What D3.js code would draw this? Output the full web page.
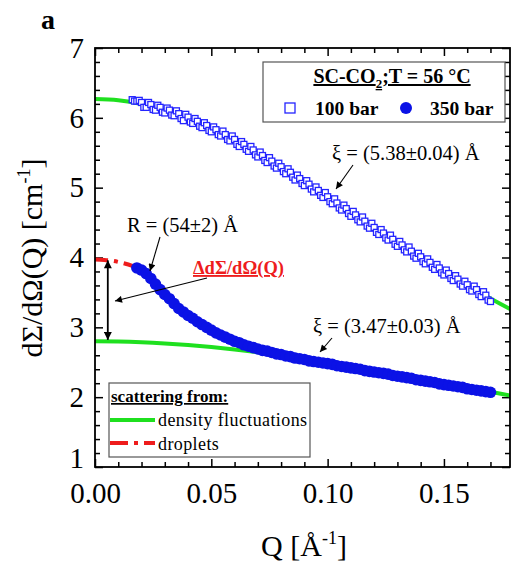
<!DOCTYPE html>
<html><head><meta charset="utf-8">
<script src="https://cdn.jsdelivr.net/npm/d3@7"></script>
<style>
body{margin:0;background:#fff}
svg{display:block}
text{font-family:"Liberation Serif","Times New Roman",serif;fill:#000}
</style>
</head><body>
<svg id="c" width="515" height="563"></svg>
<script>
// ---------- data ----------
const xTickLabels = [0.00, 0.05, 0.10, 0.15];
const yTickLabels = [1, 2, 3, 4, 5, 6, 7];

// fitted curves (density fluctuations)
const qFit   = [0,0.01,0.02,0.03,0.04,0.05,0.06,0.07,0.08,0.09,0.10,0.11,0.12,0.13,0.14,0.15,0.16,0.17,0.18];
const fit100 = [6.270,6.252,6.198,6.111,5.993,5.847,5.678,5.491,5.290,5.079,4.863,4.644,4.426,4.211,4.001,3.797,3.602,3.414,3.236];
const fit350 = [2.800,2.797,2.787,2.770,2.747,2.718,2.684,2.644,2.600,2.551,2.499,2.444,2.386,2.327,2.265,2.203,2.140,2.077,2.014];

// droplet contribution curve
const qDrop = [0,0.004,0.008,0.012,0.016,0.019];
const iDrop = [3.97,3.965,3.95,3.92,3.88,3.84];

// 100 bar data (open squares), even-Q points
const q100 = [0.016,0.018,0.020,0.022,0.024,0.026,0.028,0.030,0.032,0.034,0.036,0.038,0.040,0.042,0.044,0.046,0.048,0.050,0.052,0.054,0.056,0.058,0.060,0.062,0.064,0.066,0.068,0.070,0.072,0.074,0.076,0.078,0.080,0.082,0.084,0.086,0.088,0.090,0.092,0.094,0.096,0.098,0.100,0.102,0.104,0.106,0.108,0.110,0.112,0.114,0.116,0.118,0.120,0.122,0.124,0.126,0.128,0.130,0.132,0.134,0.136,0.138,0.140,0.142,0.144,0.146,0.148,0.150,0.152,0.154,0.156,0.158,0.160,0.162,0.164,0.166,0.168,0.170];
const i100 = [6.26,6.24,6.22,6.15,6.19,6.11,6.15,6.07,6.11,6.03,6.06,5.96,6.01,5.92,5.95,5.86,5.89,5.80,5.83,5.74,5.76,5.67,5.69,5.59,5.62,5.52,5.54,5.44,5.46,5.36,5.38,5.28,5.30,5.20,5.22,5.11,5.13,5.03,5.05,4.94,4.96,4.86,4.87,4.77,4.78,4.68,4.70,4.59,4.61,4.51,4.52,4.42,4.43,4.33,4.35,4.25,4.26,4.16,4.18,4.08,4.09,3.99,4.01,3.91,3.93,3.83,3.85,3.75,3.77,3.67,3.69,3.59,3.61,3.52,3.54,3.44,3.46,3.37];
// 100 bar data (open squares), odd-Q points
const q100b = [0.017,0.019,0.021,0.023,0.025,0.027,0.029,0.031,0.033,0.035,0.037,0.039,0.041,0.043,0.045,0.047,0.049,0.051,0.053,0.055,0.057,0.059,0.061,0.063,0.065,0.067,0.069,0.071,0.073,0.075,0.077,0.079,0.081,0.083,0.085,0.087,0.089,0.091,0.093,0.095,0.097,0.099,0.101,0.103,0.105,0.107,0.109,0.111,0.113,0.115,0.117,0.119,0.121,0.123,0.125,0.127,0.129,0.131,0.133,0.135,0.137,0.139,0.141,0.143,0.145,0.147,0.149,0.151,0.153,0.155,0.157,0.159,0.161,0.163,0.165,0.167,0.169];
const i100b = [6.24,6.25,6.15,6.22,6.12,6.18,6.08,6.14,6.04,6.10,5.99,6.05,5.94,5.99,5.88,5.93,5.82,5.87,5.76,5.81,5.69,5.74,5.62,5.66,5.55,5.59,5.47,5.51,5.39,5.43,5.31,5.35,5.23,5.27,5.15,5.18,5.06,5.10,4.98,5.01,4.89,4.93,4.80,4.84,4.71,4.75,4.63,4.66,4.54,4.58,4.45,4.49,4.36,4.40,4.28,4.32,4.19,4.23,4.11,4.15,4.02,4.06,3.94,3.98,3.86,3.90,3.78,3.82,3.70,3.74,3.62,3.66,3.54,3.59,3.47,3.51,3.39];

// 350 bar data (filled circles)
const q350 = [0.018,0.020,0.022,0.024,0.026,0.028,0.030,0.032,0.034,0.036,0.038,0.040,0.042,0.044,0.046,0.048,0.050,0.052,0.054,0.056,0.058,0.060,0.062,0.064,0.066,0.068,0.070,0.072,0.074,0.076,0.078,0.080,0.082,0.084,0.086,0.088,0.090,0.092,0.094,0.096,0.098,0.100,0.102,0.104,0.106,0.108,0.110,0.112,0.114,0.116,0.118,0.120,0.122,0.124,0.126,0.128,0.130,0.132,0.134,0.136,0.138,0.140,0.142,0.144,0.146,0.148,0.150,0.152,0.154,0.156,0.158,0.160,0.162,0.164,0.166,0.168,0.170];
const i350 = [3.85,3.82,3.77,3.70,3.62,3.54,3.47,3.41,3.34,3.27,3.22,3.17,3.13,3.08,3.04,3.00,2.96,2.92,2.89,2.86,2.83,2.80,2.78,2.75,2.73,2.71,2.69,2.67,2.66,2.64,2.62,2.61,2.59,2.58,2.56,2.55,2.54,2.52,2.51,2.50,2.49,2.48,2.47,2.45,2.44,2.43,2.42,2.41,2.40,2.38,2.37,2.36,2.35,2.34,2.33,2.31,2.30,2.29,2.28,2.27,2.25,2.24,2.23,2.22,2.21,2.19,2.18,2.17,2.16,2.15,2.14,2.12,2.11,2.10,2.09,2.08,2.07];

// ---------- drawing ----------
const svg = d3.select("#c");
const L = 95, R = 510, T = 48, B = 467;
const x = d3.scaleLinear().domain([0, 0.1784]).range([L, R]);
const y = d3.scaleLinear().domain([1, 7]).range([B, T]);

const GREEN = "#1fe01f", RED = "#ee1c1c", BLUE_SQ = "#2424ff", BLUE_C = "#0b12e6";

const defs = svg.append("defs");
defs.append("clipPath").attr("id","clip").append("rect")
  .attr("x",L).attr("y",T).attr("width",R-L).attr("height",B-T);
defs.append("marker").attr("id","ah").attr("viewBox","0 0 10 10")
  .attr("refX",10).attr("refY",5).attr("markerWidth",9).attr("markerHeight",7)
  .attr("markerUnits","userSpaceOnUse").attr("orient","auto-start-reverse")
  .append("path").attr("d","M0,0L10,5L0,10z").attr("fill","#000");
defs.append("marker").attr("id","ah2").attr("viewBox","0 0 10 10")
  .attr("refX",10).attr("refY",5).attr("markerWidth",10).attr("markerHeight",8)
  .attr("markerUnits","userSpaceOnUse").attr("orient","auto-start-reverse")
  .append("path").attr("d","M0,0L10,5L0,10z").attr("fill","#000");

// axes
const xMinor = d3.range(1, 18).map(i => i/100).filter(v => Math.abs(v*20 - Math.round(v*20)) > 1e-6);
const yMinor = d3.range(0, 31).filter(i => i % 5 !== 0).map(i => 1 + i*0.2);

function styleAxis(g, fs){
  g.select(".domain").remove();
  g.selectAll("line").attr("stroke","#000").attr("stroke-width",1.5);
  g.selectAll("text").attr("font-size",fs).attr("font-family",'"Liberation Serif",serif').attr("fill","#000");
}
svg.append("g").attr("transform",`translate(0,${B})`)
  .call(d3.axisBottom(x).tickValues(xTickLabels).tickSize(-8).tickSizeOuter(0).tickPadding(15).tickFormat(d3.format(".2f")))
  .call(g=>styleAxis(g,29));
svg.append("g").attr("transform",`translate(0,${B})`)
  .call(d3.axisBottom(x).tickValues(xMinor).tickSize(-5).tickSizeOuter(0).tickFormat(""))
  .call(g=>styleAxis(g,10));
svg.append("g").attr("transform",`translate(0,${T})`)
  .call(d3.axisTop(x).tickValues(xTickLabels).tickSize(-8).tickSizeOuter(0).tickFormat(""))
  .call(g=>styleAxis(g,10));
svg.append("g").attr("transform",`translate(0,${T})`)
  .call(d3.axisTop(x).tickValues(xMinor).tickSize(-5).tickSizeOuter(0).tickFormat(""))
  .call(g=>styleAxis(g,10));
svg.append("g").attr("transform",`translate(${L},0)`)
  .call(d3.axisLeft(y).tickValues(yTickLabels).tickSize(-8).tickSizeOuter(0).tickPadding(11).tickFormat(d3.format("d")))
  .call(g=>styleAxis(g,29))
  .call(g=>g.selectAll(".tick text").filter(d=>d===1).attr("dy","0.02em"));
svg.append("g").attr("transform",`translate(${L},0)`)
  .call(d3.axisLeft(y).tickValues(yMinor).tickSize(-5).tickSizeOuter(0).tickFormat(""))
  .call(g=>styleAxis(g,10));
svg.append("g").attr("transform",`translate(${R},0)`)
  .call(d3.axisRight(y).tickValues(yTickLabels).tickSize(-8).tickSizeOuter(0).tickFormat(""))
  .call(g=>styleAxis(g,10));
svg.append("g").attr("transform",`translate(${R},0)`)
  .call(d3.axisRight(y).tickValues(yMinor).tickSize(-5).tickSizeOuter(0).tickFormat(""))
  .call(g=>styleAxis(g,10));

// plot content
const plot = svg.append("g").attr("clip-path","url(#clip)");
const line = d3.line().x(d=>x(d[0])).y(d=>y(d[1])).curve(d3.curveMonotoneX);
plot.append("path").datum(qFit.map((q,i)=>[q,fit100[i]])).attr("d",line)
  .attr("fill","none").attr("stroke",GREEN).attr("stroke-width",4);
plot.append("path").datum(qFit.map((q,i)=>[q,fit350[i]])).attr("d",line)
  .attr("fill","none").attr("stroke",GREEN).attr("stroke-width",4);
plot.append("path").datum(qDrop.map((q,i)=>[q,iDrop[i]])).attr("d",line)
  .attr("fill","none").attr("stroke",RED).attr("stroke-width",4).attr("stroke-dasharray","13,6,4,6");

const sq = 6;
const sqData = q100.map((q,i)=>[q,i100[i]]).concat(q100b.map((q,i)=>[q,i100b[i]]))
  .sort((a,b)=>a[0]-b[0]);
plot.append("g").selectAll("rect").data(sqData).join("rect")
  .attr("x",d=>x(d[0])-sq/2).attr("y",d=>y(d[1])-sq/2).attr("width",sq).attr("height",sq)
  .attr("fill","#fff").attr("stroke",BLUE_SQ).attr("stroke-width",1.3);
plot.append("g").selectAll("circle").data(q350.map((q,i)=>[q,i350[i]])).join("circle")
  .attr("cx",d=>x(d[0])).attr("cy",d=>y(d[1])).attr("r",5.8)
  .attr("fill",BLUE_C);

// frame
svg.append("rect").attr("x",L).attr("y",T).attr("width",R-L).attr("height",B-T)
  .attr("fill","none").attr("stroke","#000").attr("stroke-width",1.8);

// annotations
function arrow(x1,y1,x2,y2,m,both){
  const l = svg.append("line").attr("x1",x1).attr("y1",y1).attr("x2",x2).attr("y2",y2)
    .attr("stroke","#000").attr("stroke-width",both?1.8:1.1).attr("marker-end",`url(#${m})`);
  if(both) l.attr("marker-start",`url(#${m})`);
}
svg.append("text").attr("x",332).attr("y",160).attr("font-size",20.5).text("ξ = (5.38±0.04) Å");
arrow(353,165,336,189,"ah");
svg.append("text").attr("x",313).attr("y",333).attr("font-size",20.5).text("ξ = (3.47±0.03) Å");
arrow(332,338,320,352,"ah");
svg.append("text").attr("x",127).attr("y",232).attr("font-size",20.5).text("R = (54±2) Å");
arrow(160,237,150,271,"ah");
svg.append("text").attr("x",193).attr("y",274).attr("font-size",18.5).attr("font-weight","bold")
  .attr("text-decoration","underline").style("fill",RED).text("ΔdΣ/dΩ(Q)");
arrow(207,278,115,301,"ah");
arrow(x(0.0055),y(3.96),x(0.0055),y(2.82),"ah2",true);

// top legend
svg.append("rect").attr("x",263).attr("y",62).attr("width",242).attr("height",60)
  .attr("fill","#fff").attr("stroke","#555").attr("stroke-width",1.2);
const t1 = svg.append("text").attr("x",392).attr("y",83).attr("text-anchor","middle")
  .attr("font-size",20).attr("font-weight","bold").attr("text-decoration","underline");
t1.append("tspan").text("SC-CO");
t1.append("tspan").attr("font-size",13).attr("dy",5).text("2");
t1.append("tspan").attr("dy",-5).text(";T = 56 °C");
svg.append("rect").attr("x",285).attr("y",103).attr("width",10).attr("height",10)
  .attr("fill","#fff").attr("stroke",BLUE_SQ).attr("stroke-width",1.3);
svg.append("text").attr("x",315).attr("y",115).attr("font-size",19.5).attr("font-weight","bold").text("100 bar");
svg.append("circle").attr("cx",406).attr("cy",108).attr("r",6).attr("fill",BLUE_C);
svg.append("text").attr("x",430).attr("y",115).attr("font-size",19.5).attr("font-weight","bold").text("350 bar");

// bottom legend
svg.append("rect").attr("x",109).attr("y",383).attr("width",201).attr("height",74)
  .attr("fill","#fff").attr("stroke","#555").attr("stroke-width",1.2);
svg.append("text").attr("x",111).attr("y",402).attr("font-size",17).attr("font-weight","bold")
  .attr("text-decoration","underline").text("scattering from:");
svg.append("line").attr("x1",110).attr("x2",155).attr("y1",420).attr("y2",420)
  .attr("stroke",GREEN).attr("stroke-width",4);
svg.append("text").attr("x",158).attr("y",426).attr("font-size",18).attr("letter-spacing",0.4).text("density fluctuations");
svg.append("line").attr("x1",110).attr("x2",155).attr("y1",443).attr("y2",443)
  .attr("stroke",RED).attr("stroke-width",4).attr("stroke-dasharray","18,6,4,6");
svg.append("text").attr("x",158).attr("y",450).attr("font-size",18).attr("letter-spacing",0.4).text("droplets");

// axis titles
const xt = svg.append("text").attr("x",304).attr("y",556).attr("text-anchor","middle").attr("font-size",30);
xt.append("tspan").text("Q [Å");
xt.append("tspan").attr("font-size",18).attr("dy",-12).text("-1");
xt.append("tspan").attr("dy",12).text("]");
const yt = svg.append("text").attr("transform","translate(42,258) rotate(-90)").attr("text-anchor","middle").attr("font-size",30);
yt.append("tspan").text("dΣ/dΩ(Q) [cm");
yt.append("tspan").attr("font-size",18).attr("dy",-12).text("-1");
yt.append("tspan").attr("dy",12).text("]");

// panel label
svg.append("text").attr("x",41).attr("y",29).attr("font-size",28).attr("font-weight","bold").text("a");
</script>
</body></html>
